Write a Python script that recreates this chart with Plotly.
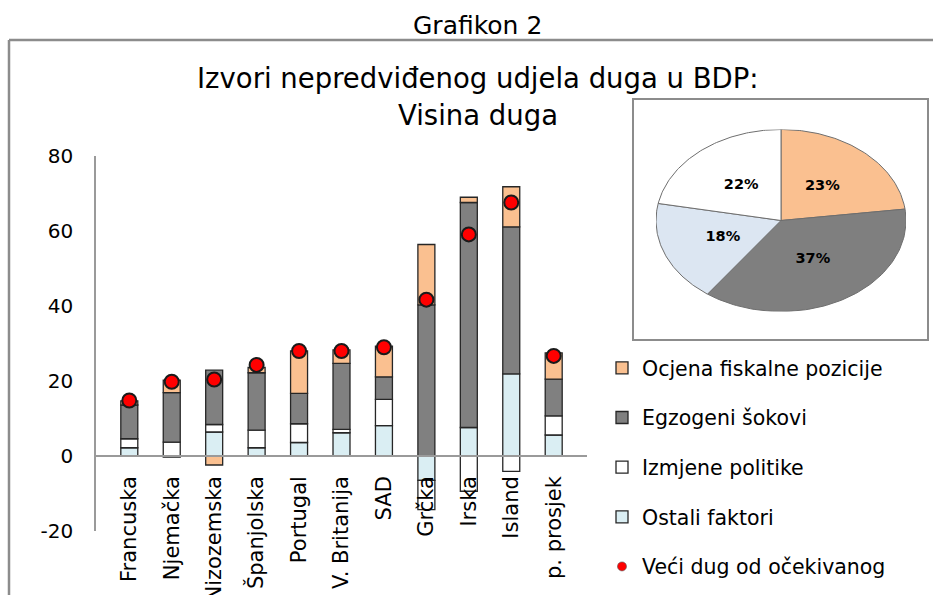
import numpy as np
import plotly.graph_objects as go

# ---------------- data ----------------
categories = ["Francuska", "Njemačka", "Nizozemska", "Španjolska", "Portugal",
              "V. Britanija", "SAD", "Grčka", "Irska", "Island", "p. prosjek"]
ostali_faktori = [2.2, -0.3, 6.4, 2.2, 3.6, 6.2, 8.1, -6.5, 7.6, 21.9, 5.6]
izmjene_politike = [2.4, 3.7, 2.0, 4.7, 5.0, 0.9, 7.0, -7.8, -9.4, -4.1, 5.1]
egzogeni_sokovi = [9.0, 13.2, 14.5, 15.3, 8.1, 17.6, 6.0, 40.3, 60.0, 39.2, 9.8]
ocjena_fiskalne = [1.1, 3.3, -2.4, 1.4, 11.3, 3.6, 8.2, 16.1, 1.4, 10.7, 7.0]
veci_dug = [14.8, 19.8, 20.4, 24.3, 28.0, 28.0, 29.0, 41.7, 59.1, 67.6, 26.7]

pie_labels = ["Ocjena fiskalne pozicije", "Egzogeni šokovi", "Ostali faktori", "Izmjene politike"]
pie_shares = [23, 37, 18, 22]

y_ticks = [-20, 0, 20, 40, 60, 80]
y_tick_text = ["-20", "0", "20", "40", "60", "80"]

# ---------------- layout helpers (pixel -> paper) ----------------
W, H = 933, 595
def px_x(p):
    return p / W
def px_y(p):
    return 1 - p / H

x_dom = [px_x(96), px_x(587)]
y_dom = [px_y(531), px_y(156)]
y_range = [-20, 80]
zero_pos = y_dom[0] + (0 - y_range[0]) / (y_range[1] - y_range[0]) * (y_dom[1] - y_dom[0])

TICK_FONT = "DejaVu Sans, Verdana, sans-serif"
TITLE_FONT = "DejaVu Sans, Verdana, sans-serif"

C_ORANGE = "#FAC090"
C_GRAY = "#808080"
C_WHITE = "#FFFFFF"
C_BLUE = "#DAEEF3"
OUTLINE = "#262626"

fig = go.Figure()

bar_series = [
    ("Ostali faktori", ostali_faktori, C_BLUE, 4),
    ("Izmjene politike", izmjene_politike, C_WHITE, 3),
    ("Egzogeni šokovi", egzogeni_sokovi, C_GRAY, 2),
    ("Ocjena fiskalne pozicije", ocjena_fiskalne, C_ORANGE, 1),
]
for name, vals, col, rank in bar_series:
    fig.add_trace(go.Bar(
        x=categories, y=vals, name=name, legendgroup=name, legendrank=rank,
        marker=dict(color=col, line=dict(color=OUTLINE, width=1.3)),
        xaxis="x", yaxis="y",
    ))

# dots on the chart (legend entry drawn by a small-marker twin below)
fig.add_trace(go.Scatter(
    x=categories, y=veci_dug, mode="markers", name="Veći dug od očekivanog",
    legendgroup="dot", showlegend=False,
    marker=dict(color="#FF0000", size=14, line=dict(color="#1a1a1a", width=2)),
    xaxis="x", yaxis="y",
))
fig.add_trace(go.Scatter(
    x=[None], y=[None], mode="markers", name="Veći dug od očekivanog",
    legendgroup="dot", legendrank=5,
    marker=dict(color="#FF0000", size=9, line=dict(color="#555555", width=0.6)),
    xaxis="x", yaxis="y",
))

# ---------------- pie (elliptical, drawn from shares) ----------------
pie_colors = {"Ocjena fiskalne pozicije": C_ORANGE, "Egzogeni šokovi": "#7F7F7F",
              "Ostali faktori": "#DCE6F2", "Izmjene politike": "#FFFFFF"}
total = sum(pie_shares)
cum = 0.0
lab_x, lab_y, lab_t = [], [], []
for lab, s in zip(pie_labels, pie_shares):
    t0 = 2 * np.pi * cum / total
    t1 = 2 * np.pi * (cum + s) / total
    t = np.linspace(t0, t1, 80)
    xs = np.concatenate([[0], np.sin(t), [0]])
    ys = np.concatenate([[0], np.cos(t), [0]])
    fig.add_trace(go.Scatter(
        x=xs, y=ys, mode="lines", fill="toself", fillcolor=pie_colors[lab],
        line=dict(color="#6e6e6e", width=1), showlegend=False, hoverinfo="skip",
        xaxis="x2", yaxis="y2",
    ))
    tm = (t0 + t1) / 2
    lab_x.append(0.5 * np.sin(tm))
    lab_y.append(0.5 * np.cos(tm))
    lab_t.append(f"<b>{s}%</b>")
    cum += s

fig.add_trace(go.Scatter(
    x=lab_x, y=lab_y, mode="text", text=lab_t,
    textfont=dict(family=TICK_FONT, size=14.5, color="#000000"),
    showlegend=False, hoverinfo="skip", xaxis="x2", yaxis="y2",
))

fig.update_layout(
    width=W, height=H,
    margin=dict(l=0, r=0, t=0, b=0, autoexpand=False),
    paper_bgcolor="white", plot_bgcolor="rgba(0,0,0,0)",
    barmode="relative", bargap=0.6,
    showlegend=True,
    legend=dict(
        x=px_x(602), y=px_y(348), xanchor="left", yanchor="top",
        font=dict(family=TICK_FONT, size=20.5, color="#000000"),
        tracegroupgap=20, bgcolor="rgba(0,0,0,0)", itemwidth=30,
    ),
    xaxis=dict(
        domain=x_dom, anchor="free", position=zero_pos,
        showline=True, linecolor="#9a9a9a", linewidth=1.5,
        showgrid=False, zeroline=False, ticks="",
        tickangle=-90, automargin=False,
        tickfont=dict(family=TICK_FONT, size=21, color="#000000"),
        ticklabelstandoff=11,
    ),
    yaxis=dict(
        domain=y_dom, anchor="x", range=y_range,
        tickvals=y_ticks, ticktext=y_tick_text,
        showline=True, linecolor="#9a9a9a", linewidth=1.5,
        showgrid=False, zeroline=False, ticks="", automargin=False,
        tickfont=dict(family=TICK_FONT, size=20, color="#000000"),
        ticklabelstandoff=17,
    ),
    xaxis2=dict(domain=[px_x(656), px_x(906)], range=[-1, 1], anchor="y2",
                visible=False, fixedrange=True),
    yaxis2=dict(domain=[px_y(311.5), px_y(129.5)], range=[-1, 1], anchor="x2",
                visible=False, fixedrange=True),
    shapes=[
        dict(type="line", xref="paper", yref="paper", x0=px_x(9), x1=1.0,
             y0=px_y(40), y1=px_y(40), line=dict(color="#8c8c8c", width=2.5)),
        dict(type="line", xref="paper", yref="paper", x0=px_x(9), x1=px_x(9),
             y0=px_y(40), y1=0, line=dict(color="#8c8c8c", width=2.5)),
        dict(type="rect", xref="paper", yref="paper", x0=px_x(633), x1=px_x(928),
             y0=px_y(340), y1=px_y(99), line=dict(color="#8c8c8c", width=2)),
    ],
    annotations=[
        dict(text="Grafikon 2", xref="paper", yref="paper", x=px_x(477), y=px_y(26),
             showarrow=False, xanchor="center", yanchor="middle",
             font=dict(family=TITLE_FONT, size=25, color="#000000")),
        dict(text="Izvori nepredviđenog udjela duga u BDP:", xref="paper", yref="paper",
             x=px_x(478), y=px_y(78), showarrow=False, xanchor="center", yanchor="middle",
             font=dict(family=TITLE_FONT, size=27.5, color="#000000")),
        dict(text="Visina duga", xref="paper", yref="paper",
             x=px_x(478), y=px_y(115), showarrow=False, xanchor="center", yanchor="middle",
             font=dict(family=TITLE_FONT, size=27.5, color="#000000")),
    ],
)

fig.write_html(
    "out.html",
    config={"displayModeBar": False},
    post_script="document.body.style.margin='0px';document.body.style.overflow='hidden';",
)
